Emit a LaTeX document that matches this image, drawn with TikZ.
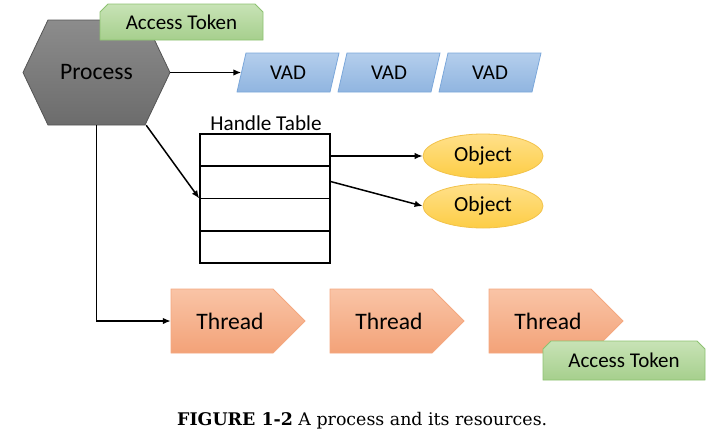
\documentclass[tikz,border=0pt]{standalone}
\usepackage{fontspec}
\setmainfont{Carlito}
\newfontfamily\capfont{DejaVu Serif}
\usetikzlibrary{shapes.geometric,shapes.misc,arrows.meta,calc}
\definecolor{grayA}{HTML}{8C8C8C}
\definecolor{grayB}{HTML}{6C6C6C}
\definecolor{grayD}{HTML}{555555}
\definecolor{blueA}{HTML}{B4CEEC}
\definecolor{blueB}{HTML}{90B5E0}
\definecolor{blueD}{HTML}{7BA7DA}
\definecolor{yelA}{HTML}{FFE08A}
\definecolor{yelB}{HTML}{FDCD45}
\definecolor{yelD}{HTML}{F2C24A}
\definecolor{orA}{HTML}{F9C4A6}
\definecolor{orB}{HTML}{F3A278}
\definecolor{orD}{HTML}{F4A880}
\definecolor{grA}{HTML}{C8E3B6}
\definecolor{grB}{HTML}{A6CF8D}
\definecolor{grD}{HTML}{8DC271}
\begin{document}
\begin{tikzpicture}[x=1pt,y=-1pt,
  conn/.style={line width=1.5pt, -{Latex[length=8pt,width=6.5pt]}},
  lbl/.style={inner sep=0pt, font=\fontsize{21}{25}\selectfont},
  biglbl/.style={inner sep=0pt, font=\fontsize{23.6}{28}\selectfont},
  procshape/.style={top color=grayA, bottom color=grayB, draw=grayD, line width=0.8pt},
  vadshape/.style={top color=blueA, bottom color=blueB, draw=blueD, line width=0.8pt},
  thshape/.style={top color=orA, bottom color=orB, draw=orD, line width=0.8pt},
  objshape/.style={ellipse, top color=yelA, bottom color=yelB, draw=yelD, line width=0.8pt,
     minimum width=120, minimum height=44, inner sep=0pt, font=\fontsize{21.5}{25}\selectfont},
  token/.style={chamfered rectangle, chamfered rectangle corners={north west,north east},
     chamfered rectangle xsep=4pt, chamfered rectangle ysep=4pt,
     top color=grA, bottom color=grB, draw=grD, line width=0.8pt, inner sep=0pt,
     font=\fontsize{21}{25}\selectfont},
  tabline/.style={line width=1.4pt, draw=black}
]
\useasboundingbox (0,0) rectangle (727,447);

% Process
\path[procshape] (23,72.5) -- (48,20) -- (145,20) -- (170,72.5) -- (145,125) -- (48,125) -- cycle;
\node[biglbl, minimum width=147, minimum height=105] (proc) at (96.5,72.5) {Process};

% VADs
\foreach \cx/\nm in {288/vad1, 389/vad2, 490/vad3}{
  \path[vadshape] (\cx-51,92) -- (\cx-42,53) -- (\cx+51,53) -- (\cx+42,92) -- cycle;
  \node[lbl, minimum width=93, minimum height=39] (\nm) at (\cx,72.5) {VAD};
}
\draw[conn] (proc.east) -- (vad1.west);

% Handle table
\node[lbl] (htl) at (266,123) {\fontsize{21.2}{25}\selectfont Handle Table};
\node[draw, tabline, minimum width=130, minimum height=129, inner sep=0pt] (ht) at (265,198.5) {};
\foreach \f in {0.25,0.5,0.75}{
  \draw[tabline] ($(ht.north west)!\f!(ht.south west)$) -- ($(ht.north east)!\f!(ht.south east)$);
}

% Objects
\node[objshape] (obj1) at (483,156) {Object};
\node[objshape] (obj2) at (483,206) {Object};
\draw[conn] (ht.east |- obj1.west) -- (obj1.west);
\draw[conn] ($(ht.north east)!0.37!(ht.south east)$) -- (obj2.west);

% Process -> handle table
\draw[conn] ($(proc.south east)+(-24,0)$) -- ($(ht.north west)!0.5!(ht.south west)$);

% Threads
\foreach \L/\tc/\nm in {171/230/th1, 330/389/th2, 489/548/th3}{
  \path[thshape] (\L,289) -- (\L+102,289) -- (\L+134,321) -- (\L+102,353) -- (\L,353) -- cycle;
  \node[biglbl, minimum width=118, minimum height=64] (\nm) at (\tc,321) {Thread};
}
\draw[conn] (proc.south) |- (th1.west);

% Access tokens
\node[token, minimum width=163, minimum height=36] (tok1) at (181.5,22) {Access Token};
\node[token, minimum width=162, minimum height=39] (tok2) at (624,360.5) {Access Token};

% Caption
\node[anchor=base west, inner sep=0pt, font=\capfont\fontsize{17.4}{21}\selectfont] (cap) at (177,425)
  {\textbf{FIGURE 1-2} A process and its resources.};
\end{tikzpicture}
\end{document}
